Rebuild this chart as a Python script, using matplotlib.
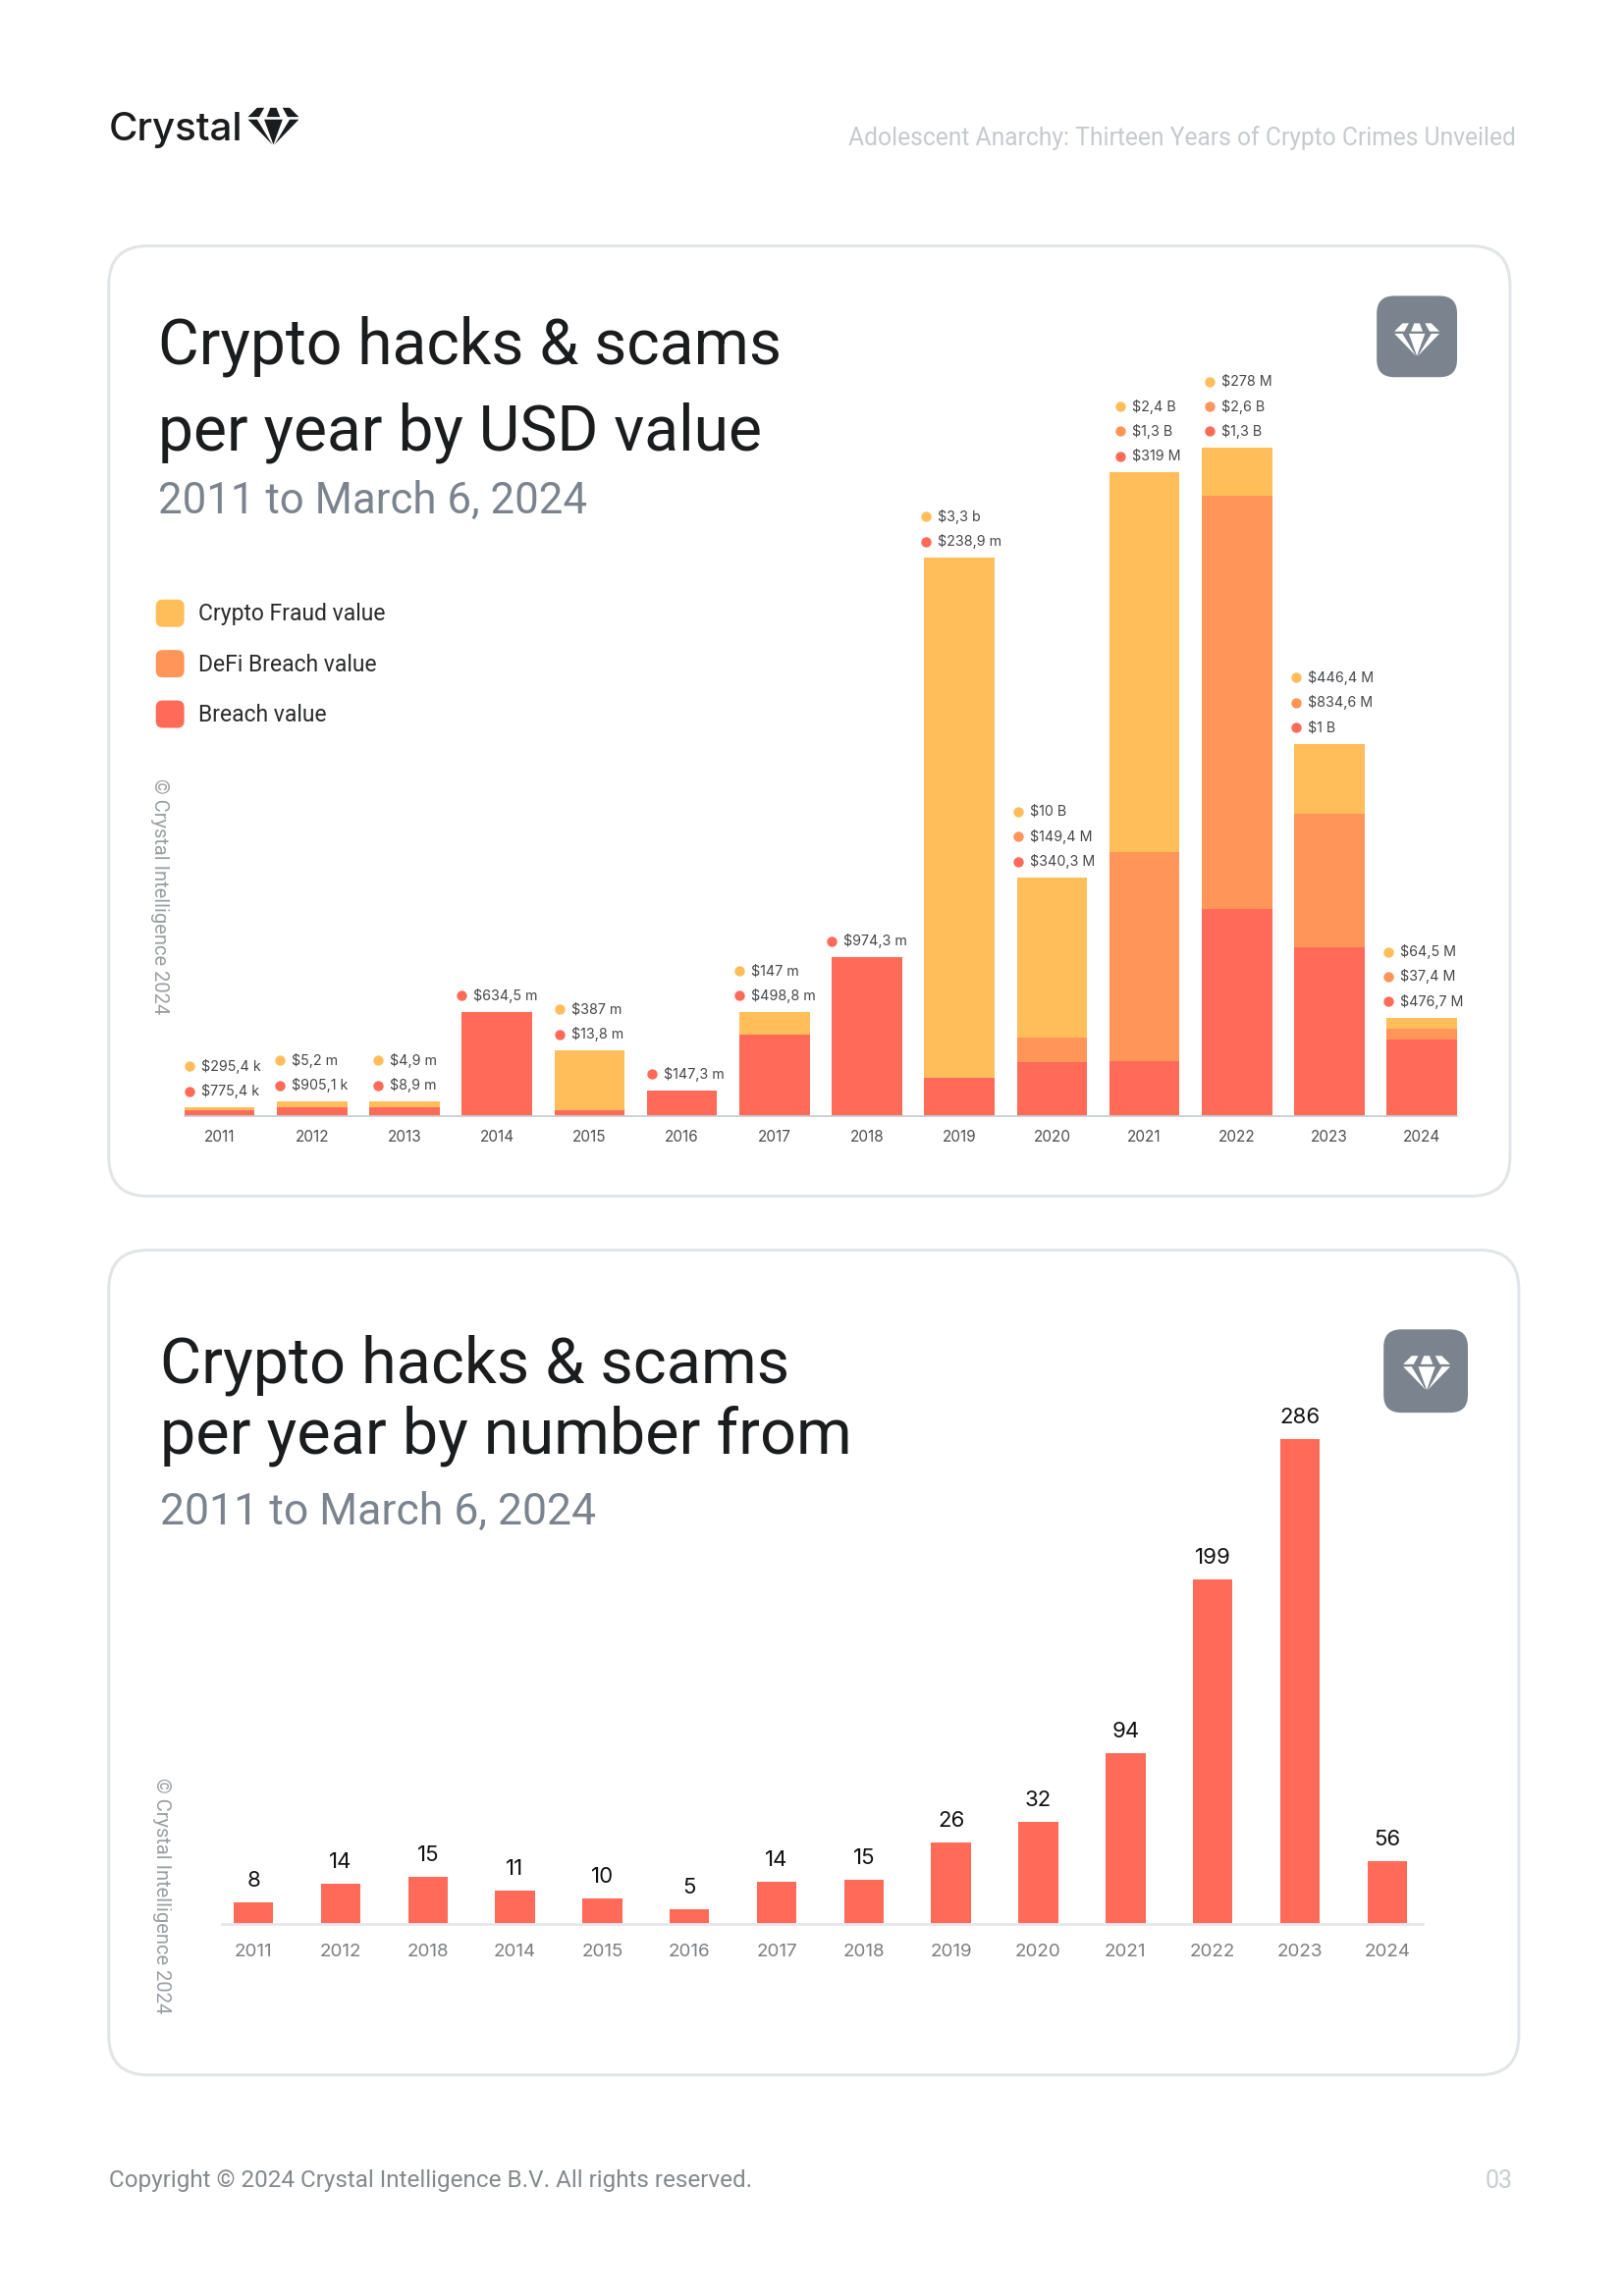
import matplotlib
matplotlib.use("Agg")
import matplotlib.pyplot as plt
from matplotlib.patches import FancyBboxPatch, Polygon
from matplotlib.transforms import offset_copy

W, H = 1653, 2339
S = 0.998  # layout numbers below were read slightly too large
plt.rcParams['font.family'] = ['Roboto', 'DejaVu Sans']

# data
years = ['2011', '2012', '2013', '2014', '2015', '2016', '2017', '2018', '2019', '2020', '2021', '2022', '2023', '2024']
# bar heights, $M
breach = [35, 54, 54, 645, 35, 158, 505, 985, 238, 333, 337, 1287, 1049, 475]
defi = [0, 0, 0, 0, 0, 0, 0, 0, 0, 156, 1303, 2566, 826, 67]
fraud = [18, 35, 35, 0, 370, 0, 140, 0, 3231, 991, 2358, 300, 437, 67]
# labels as printed
breach_labels = ['$775,4 k', '$905,1 k', '$8,9 m', '$634,5 m', '$13,8 m', '$147,3 m', '$498,8 m', '$974,3 m',
                 '$238,9 m', '$340,3 M', '$319 M', '$1,3 B', '$1 B', '$476,7 M']
defi_labels = [None, None, None, None, None, None, None, None, None, '$149,4 M', '$1,3 B', '$2,6 B', '$834,6 M', '$37,4 M']
fraud_labels = ['$295,4 k', '$5,2 m', '$4,9 m', None, '$387 m', None, '$147 m', None,
                '$3,3 b', '$10 B', '$2,4 B', '$278 M', '$446,4 M', '$64,5 M']

years2 = ['2011', '2012', '2018', '2014', '2015', '2016', '2017', '2018', '2019', '2020', '2021', '2022', '2023', '2024']
counts = [8, 14, 15, 11, 10, 5, 14, 15, 26, 32, 94, 199, 286, 56]
count_heights = [13, 24, 28, 20, 15, 8.6, 25, 26, 48, 60, 101, 203, 286, 37]

RED = '#ff6b58'
ORANGE = '#ff9559'
YELLOW = '#ffbe5a'
DARK = '#1b1c1e'
GREY = '#7b848e'
EDGE = '#e2e5e8'
INTER = ['Inter', 'DejaVu Sans']

fig = plt.figure(figsize=(W / 100, H / 100), dpi=100, facecolor='white')

# page layer in pixels
bg = fig.add_axes([0, 0, 1, 1])
bg.set_xlim(0, W / S)
bg.set_ylim(H / S, 0)
bg.axis('off')


def card(x0, y0, x1, y1, r, fc, ec, lw):
    p = FancyBboxPatch((x0 + r, y0 + r), x1 - x0 - 2 * r, y1 - y0 - 2 * r,
                       boxstyle='round,pad=%f,rounding_size=%f' % (r, r), fc=fc, ec=ec, lw=lw)
    bg.add_patch(p)


def diamond(cx, top, half, color):
    pieces = [
        [(-1, .36), (-.64, 0), (-.36, 0), (-.56, .36)],
        [(-.26, .36), (-.12, 0), (.12, 0), (.26, .36)],
        [(1, .36), (.64, 0), (.36, 0), (.56, .36)],
        [(-1, .46), (-.64, .46), (-.04, 1.45)],
        [(-.36, .46), (.36, .46), (0, 1.45)],
        [(1, .46), (.64, .46), (.04, 1.45)],
    ]
    for piece in pieces:
        bg.add_patch(Polygon([(cx + a * half, top + b * half) for a, b in piece], fc=color, ec='none'))


# header and footer
bg.text(111, 143.5, 'Crystal', fontsize=29, color=DARK, family=INTER, fontweight='medium', va='baseline')
diamond(279, 110, 26, DARK)
bg.text(1547, 141, 'Adolescent Anarchy: Thirteen Years of Crypto Crimes Unveiled', fontsize=17.7, color='#c6cacf', ha='right', va='center')
bg.text(111, 2226, 'Copyright © 2024 Crystal Intelligence B.V. All rights reserved.', fontsize=17.5, color='#85898e', va='center')
bg.text(1544, 2226, '03', fontsize=18, color='#c9cdd1', ha='right', va='center')

# cards
card(111, 251, 1541, 1221, 40, 'white', EDGE, 2.2)
card(111, 1276, 1550, 2118, 40, 'white', EDGE, 2.2)

# chart 1 text
bg.text(161, 371, 'Crypto hacks & scams', fontsize=46.2, color=DARK)
bg.text(161, 459, 'per year by USD value', fontsize=46.2, color=DARK)
bg.text(161, 524, '2011 to March 6, 2024', fontsize=31.5, color=GREY)
card(1405, 302, 1487, 385, 18, GREY, 'none', 0)
diamond(1446, 330, 23, 'white')

legend_names = ['Crypto Fraud value', 'DeFi Breach value', 'Breach value']
legend_colors = [YELLOW, ORANGE, RED]
for i in range(3):
    yc = 626 + i * 51.5
    card(159, yc - 14, 188, yc + 14, 7, legend_colors[i], 'none', 0)
    bg.text(202, yc + 1, legend_names[i], fontsize=16.5, color='#2a2b2d', va='center')

bg.text(163, 915, '© Crystal Intelligence 2024', fontsize=14.5, color='#9a9ea3', rotation=270, ha='center', va='center')

# chart 1 bars
left, right, top, base = 188, 1487, 457.4, 1139
ax = fig.add_axes([left * S / W, 1 - base * S / H, (right - left) * S / W, (base - top) * S / H])
ax.patch.set_alpha(0)
x = list(range(len(years)))
bottom2 = [a + b for a, b in zip(breach, defi)]
totals = [a + b for a, b in zip(bottom2, fraud)]
ax.bar(x, breach, width=0.76, color=RED)
ax.bar(x, defi, width=0.76, bottom=breach, color=ORANGE)
ax.bar(x, fraud, width=0.76, bottom=bottom2, color=YELLOW)
ax.set_xlim(-0.381, 13.38)
ax.set_ylim(0, 4150)
for s in ['top', 'left', 'right']:
    ax.spines[s].set_visible(False)
ax.spines['bottom'].set_color('#c9cdd2')
ax.spines['bottom'].set_linewidth(1.3)
ax.set_yticks([])
ax.set_xticks(x)
ax.set_xticklabels(years, fontsize=11, color='#4d4f52', family=INTER)
ax.tick_params(axis='x', length=0, pad=10)

# dot labels above the bars, pixel shift of the dot from the bar centre
dot_shift = [-31, -33, -27, -36, -30, -31, -36, -36, -34, -34, -25, -28, -34, -34]
for i in x:
    row = 0
    for labels, color in [(breach_labels, RED), (defi_labels, ORANGE), (fraud_labels, YELLOW)]:
        if labels[i] is None:
            continue
        dy = 16.5 + row * 25.4
        tr = offset_copy(ax.transData, fig=fig, x=dot_shift[i], y=dy, units='dots')
        ax.plot([i], [totals[i]], 'o', ms=7.5, color=color, mew=0, transform=tr, clip_on=False)
        ax.annotate(labels[i], xy=(i, totals[i]), xytext=(dot_shift[i] + 12, dy), textcoords='offset pixels',
                    fontsize=10.3, color='#45474a', va='center', ha='left', family=INTER,
                    annotation_clip=False)
        row += 1

# chart 2 text
bg.text(163, 1411, 'Crypto hacks & scams', fontsize=46.6, color=DARK)
bg.text(163, 1483, 'per year by number from', fontsize=46.6, color=DARK)
bg.text(163, 1556, '2011 to March 6, 2024', fontsize=32, color=GREY)
card(1412, 1357, 1498, 1442, 18, GREY, 'none', 0)
diamond(1456, 1384, 24, 'white')
bg.text(165, 1935, '© Crystal Intelligence 2024', fontsize=14.5, color='#9a9ea3', rotation=270, ha='center', va='center')

# chart 2 bars
left, right, top, base = 226, 1452, 1469, 1964
ax2 = fig.add_axes([left * S / W, 1 - base * S / H, (right - left) * S / W, (base - top) * S / H])
ax2.patch.set_alpha(0)
ax2.bar(x, count_heights, width=0.455, color=RED)
ax2.set_xlim((226 - 258.6) / 89, (1452 - 258.6) / 89)
ax2.set_ylim(0, 286)
for s in ['top', 'left', 'right']:
    ax2.spines[s].set_visible(False)
ax2.spines['bottom'].set_color('#e6e7ec')
ax2.spines['bottom'].set_linewidth(2)
ax2.set_yticks([])
ax2.set_xticks(x)
ax2.set_xticklabels(years2, fontsize=13.5, color='#7b7d80', family=INTER)
ax2.tick_params(axis='x', length=0, pad=14)
for i in x:
    ax2.annotate(str(counts[i]), xy=(i, count_heights[i]), xytext=(0, 22), textcoords='offset pixels',
                 fontsize=16, color='#111111', ha='center', va='center', family=INTER,
                 annotation_clip=False)

fig.savefig('out.png', dpi=100)
